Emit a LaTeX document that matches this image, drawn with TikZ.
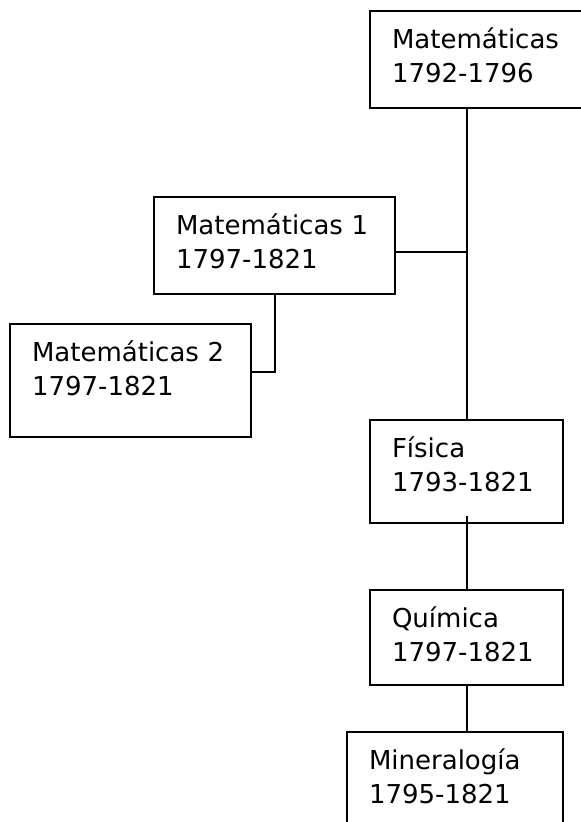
\documentclass[tikz,border=0pt]{standalone}
\usepackage{fontspec}
\setmainfont{DejaVu Sans}
\usepackage{tikz}
\usetikzlibrary{positioning}

% two lines of text, top strut and bottom strut
\newcommand{\subjtext}[3]{\rule{0pt}{37pt}#1\\#2\rule[-#3]{0pt}{#3}}

\begin{document}
\begin{tikzpicture}[line width=2pt,
  subject/.style={draw, anchor=north west, inner xsep=22pt, inner ysep=0pt,
    text width=#1, align=left, font=\fontsize{26}{34}\selectfont}]
  \useasboundingbox (0,0) rectangle (581pt,-822pt);

  \node[subject=187pt] (mat) at (369pt,-10pt) {\subjtext{Matemáticas}{1792-1796}{26pt}};
  \node[subject=197pt] (mat1) at (153pt,-196pt) {\subjtext{Matemáticas 1}{1797-1821}{26pt}};
  \node[subject=197pt] (mat2) at (9pt,-323pt) {\subjtext{Matemáticas 2}{1797-1821}{42pt}};
  \node[subject=149pt] (fis) at (369pt,-419pt) {\subjtext{Física}{1793-1821}{32pt}};
  \node[subject=149pt, below=65pt of fis] (quim) {\subjtext{Química}{1797-1821}{24pt}};
  \node[subject=172pt] (mine) at (346pt,-731pt) {\subjtext{Mineralogía}{1795-1821}{38pt}};

  \coordinate (j1) at ([yshift=-6pt]mat1.east);
  \coordinate (j2) at ([yshift=9pt]mat2.east);

  \draw (mat.south -| fis.north) -- (fis.north);
  \draw (j1) -- (j1 -| fis.north);
  \draw (mat1.south) |- (j2);
  \draw ([yshift=8pt]fis.south) -- (quim.north);
  \draw (quim.south) -- (quim.south |- mine.north);
\end{tikzpicture}
\end{document}
